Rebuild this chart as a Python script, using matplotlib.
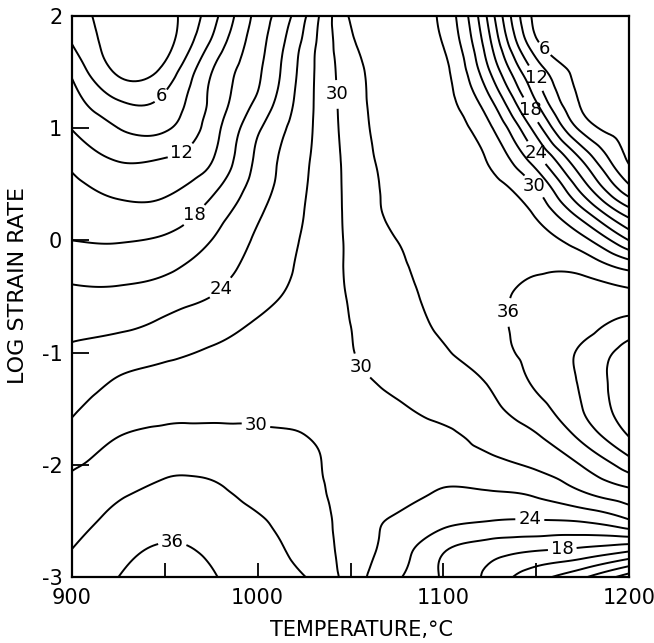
import numpy as np
import matplotlib
matplotlib.use("Agg")
import matplotlib.pyplot as plt
import matplotlib.tri as mtri

# Efficiency map: rows follow log_strain_rate, columns follow temperature
temperature = [900, 925, 950, 975, 1000, 1025, 1050, 1075, 1100, 1125, 1150, 1175, 1200]
log_strain_rate = [2.0, 1.75, 1.5, 1.25, 1.0, 0.75, 0.5, 0.25, 0.0, -0.25, -0.5, -0.75,
                   -1.0, -1.25, -1.5, -1.75, -2.0, -2.25, -2.5, -2.75, -3.0]
efficiency = [
    [4.5, 1.5, 1.8, 7.7, 16.0, 23.5, 33.3, 35.0, 32.2, 19.8, 5.0, 4.5, 4.5],
    [6.0, 1.4, 1.9, 9.5, 16.8, 24.7, 32.4, 35.0, 32.9, 21.6, 6.8, 4.5, 4.5],
    [8.5, 2.6, 4.0, 11.9, 17.5, 25.3, 31.7, 34.8, 33.8, 24.1, 11.3, 5.0, 4.5],
    [10.3, 6.0, 6.6, 12.6, 18.5, 25.6, 31.5, 34.7, 34.0, 27.5, 14.8, 5.5, 5.0],
    [11.9, 9.0, 8.6, 13.5, 20.5, 26.0, 31.3, 34.5, 34.5, 30.5, 19.6, 8.0, 5.2],
    [14.0, 11.5, 11.8, 14.6, 21.6, 26.4, 31.0, 34.3, 34.8, 32.5, 24.6, 14.0, 5.4],
    [15.6, 14.0, 14.2, 16.8, 22.3, 26.7, 30.8, 34.0, 35.0, 33.8, 29.5, 19.0, 9.0],
    [16.8, 15.8, 16.1, 19.2, 23.5, 27.0, 30.7, 33.8, 35.0, 35.0, 32.5, 25.0, 16.5],
    [18.0, 17.8, 18.5, 21.0, 24.5, 27.3, 30.5, 33.0, 35.0, 35.3, 34.5, 31.0, 24.0],
    [20.0, 19.8, 20.5, 22.6, 25.1, 27.6, 30.4, 32.4, 34.5, 35.3, 35.7, 35.3, 32.5],
    [21.7, 21.7, 22.6, 24.0, 26.0, 28.0, 30.2, 32.0, 34.0, 35.3, 36.8, 37.3, 37.0],
    [23.2, 23.4, 24.5, 25.9, 27.3, 28.6, 30.0, 31.7, 33.5, 35.3, 37.0, 38.0, 40.0],
    [24.5, 25.5, 26.3, 27.3, 28.2, 29.0, 29.9, 31.3, 32.7, 34.8, 37.0, 39.5, 43.5],
    [25.6, 27.2, 28.0, 28.5, 29.0, 29.3, 29.6, 30.6, 31.9, 33.3, 36.5, 39.5, 44.5],
    [26.6, 28.4, 28.9, 29.0, 29.2, 29.2, 29.2, 29.7, 30.9, 32.4, 34.9, 39.0, 44.0],
    [28.0, 30.0, 31.0, 31.2, 30.8, 30.1, 29.0, 29.0, 29.4, 31.0, 32.7, 36.8, 42.0],
    [29.7, 31.2, 32.5, 32.5, 31.7, 30.6, 29.0, 28.5, 28.5, 29.2, 30.5, 33.2, 37.5],
    [30.9, 32.6, 33.6, 33.5, 32.2, 30.9, 29.0, 28.2, 26.7, 26.8, 27.5, 29.8, 32.0],
    [32.0, 33.8, 35.0, 34.6, 33.3, 31.5, 28.8, 26.5, 24.9, 24.0, 23.8, 24.2, 26.6],
    [33.0, 35.0, 36.3, 35.5, 34.0, 32.0, 28.8, 25.5, 21.4, 19.5, 18.4, 17.6, 16.0],
    [34.0, 36.0, 37.5, 36.3, 34.5, 33.1, 28.7, 24.4, 20.6, 17.2, 13.1, 9.5, 4.5],
]

plain_levels = [3, 9, 15, 21, 27, 33, 39, 42]
label_levels = [6, 12, 18, 24, 30, 36]
label_spots = [(949, 1.27), (958, 0.81), (965, 0.24), (981, -0.44),
               (1041.6, 1.30), (1055, -1.13), (999.6, -1.60), (954, -2.73),
               (1134, -0.64), (1152, 1.67), (1148, 1.43), (1146.6, 1.16),
               (1150, 0.78), (1146.6, 0.45), (1146.6, -2.47), (1164, -2.74)]

plt.rcParams["font.family"] = ["DejaVu Sans"]
plt.rcParams["axes.unicode_minus"] = False

fig = plt.figure(figsize=(6.54, 6.43), dpi=100)
ax = fig.add_axes([0.1101, 0.1026, 0.8517, 0.8725])

# smooth the read grid with matplotlib's own cubic triangle refiner
t0, t1 = min(temperature), max(temperature)
r0, r1 = min(log_strain_rate), max(log_strain_rate)
tt, rr = np.meshgrid(temperature, log_strain_rate)
zz = np.array(efficiency).ravel()
u = (tt.ravel() - t0) / (t1 - t0)
v = (rr.ravel() - r0) / (r1 - r0)
tri = mtri.Triangulation(u, v)
interp = mtri.CubicTriInterpolator(tri, zz, kind="min_E")
fine, z_fine = mtri.UniformTriRefiner(tri).refine_field(zz, triinterpolator=interp, subdiv=4)
fine_tri = mtri.Triangulation(fine.x * (t1 - t0) + t0, fine.y * (r1 - r0) + r0, fine.triangles)

ax.set_xlim(t0, t1)
ax.set_ylim(r0, r1)
ax.tricontour(fine_tri, z_fine, levels=plain_levels, colors="black", linewidths=1.4)
cs = ax.tricontour(fine_tri, z_fine, levels=label_levels, colors="black", linewidths=1.4)

labels = ax.clabel(cs, manual=label_spots, fmt="%d", fontsize=13,
                   inline=True, inline_spacing=3)
for t in labels:
    t.set_rotation(0)

ax.set_xticks([900, 1000, 1100, 1200])
ax.set_xticks([950, 1050, 1150], minor=True)
ax.set_yticks([-3, -2, -1, 0, 1, 2])
ax.tick_params(axis="x", which="both", direction="in", length=10, width=1.3,
               pad=8, labelsize=15, top=False)
ax.tick_params(axis="y", direction="in", length=12, width=1.3, pad=7,
               labelsize=15, right=False)
for s in ax.spines.values():
    s.set_linewidth(1.6)

ax.set_xlabel("TEMPERATURE,°C", fontsize=15)
ax.set_ylabel("LOG STRAIN RATE", fontsize=16)
ax.xaxis.set_label_coords(0.52, -0.077)
ax.yaxis.set_label_coords(-0.079, 0.52)

fig.savefig("out.png", dpi=100)
